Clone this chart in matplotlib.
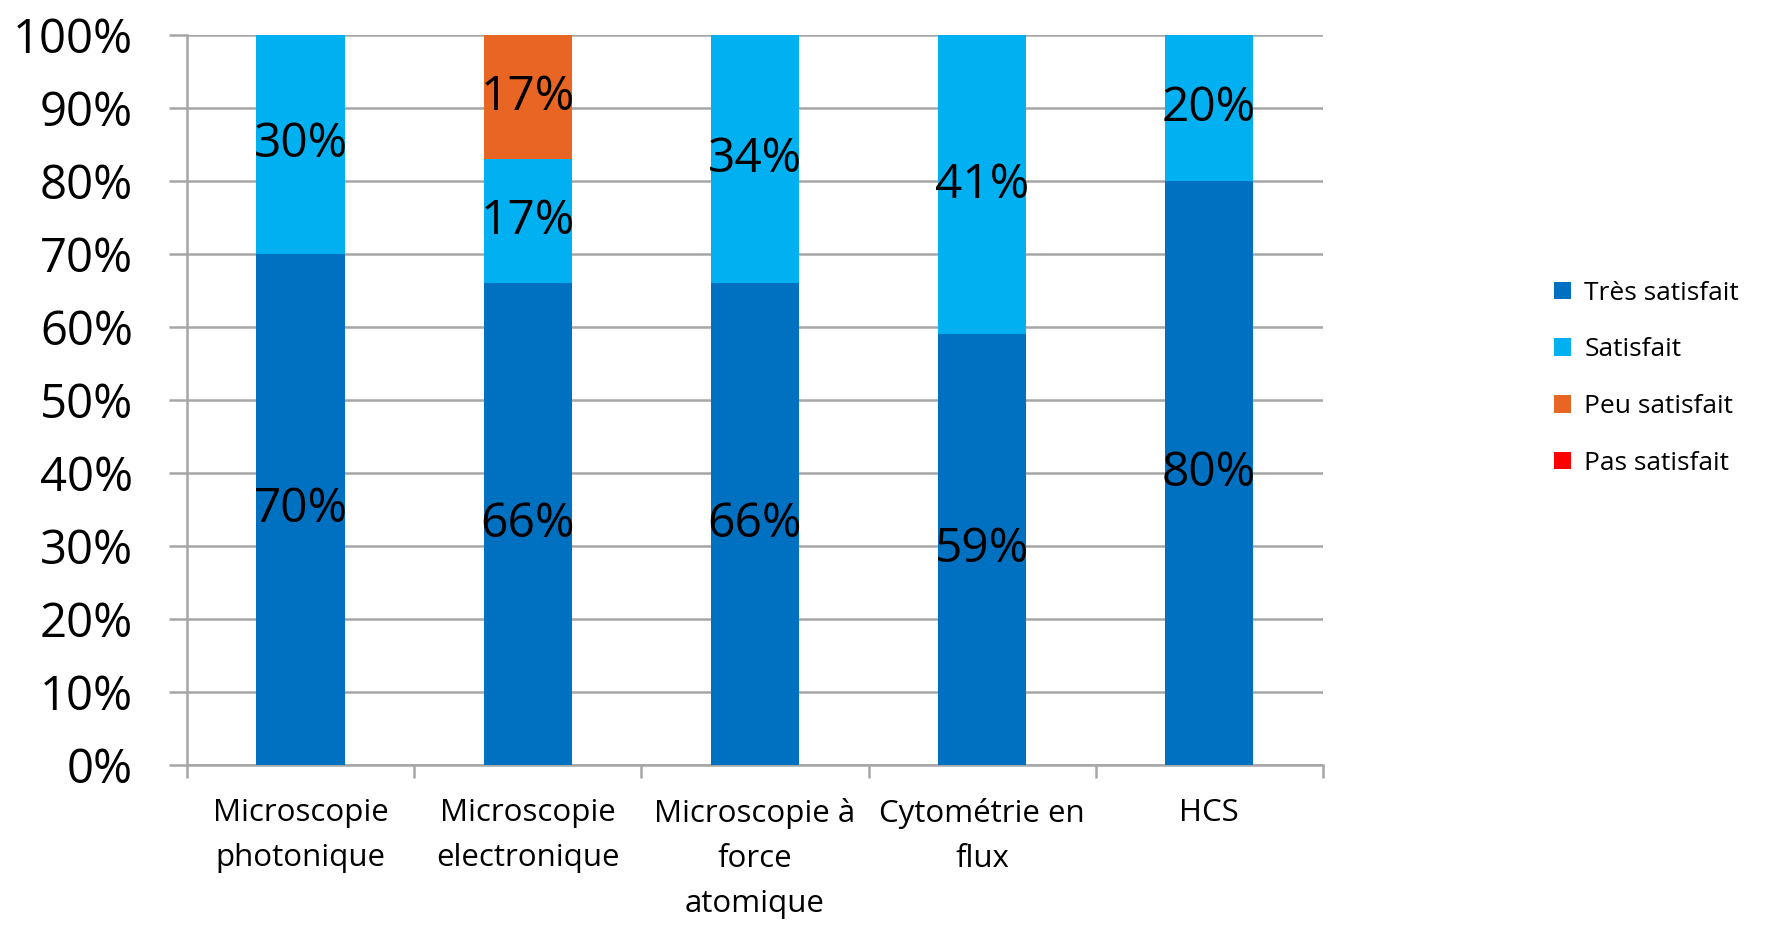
import matplotlib
matplotlib.use("Agg")
import matplotlib.pyplot as plt
import numpy as np
from matplotlib.patches import Patch

categories = ["Microscopie\nphotonique", "Microscopie\nelectronique",
              "Microscopie à\nforce\natomique", "Cytométrie en\nflux", "HCS"]
series_names = ["Très satisfait", "Satisfait", "Peu satisfait", "Pas satisfait"]
tres = [70, 66, 66, 59, 80]
satisfait = [30, 17, 34, 41, 20]
peu = [0, 17, 0, 0, 0]
pas = [0, 0, 0, 0, 0]
yticks = [0, 10, 20, 30, 40, 50, 60, 70, 80, 90, 100]

colors = ["#0070C0", "#00B0F0", "#E96524", "#FF0000"]
grid_c = "#A6A6A6"

plt.rcParams['font.family'] = ['Open Sans', 'DejaVu Sans']

fig = plt.figure(figsize=(17.66, 9.27), dpi=100)
ax = fig.add_axes([0.106, 0.175, 0.643, 0.787])

x = np.arange(len(categories))
w = 0.39
bottom = np.zeros(len(categories))
for vals, c in zip([tres, satisfait, peu, pas], colors):
    vals = np.array(vals, dtype=float)
    ax.bar(x, vals, w, bottom=bottom, color=c, zorder=3)
    for xi, v, b in zip(x, vals, bottom):
        if v > 0:
            ax.text(xi, b + v / 2, f"{int(v)}%", ha="center", va="center",
                    fontsize=34.5, color="black", zorder=4)
    bottom += vals

ax.set_xlim(-0.5, 4.5)
ax.set_ylim(0, 100)
ax.set_yticks(yticks)
ax.set_yticklabels([f"{v}%" for v in yticks], fontsize=34)
ax.yaxis.grid(True, color=grid_c, linewidth=1.8, zorder=0)
ax.tick_params(axis="y", length=13, width=1.8, color=grid_c, pad=26)

ax.set_xticks(x)
ax.set_xticklabels(categories, fontsize=22.5, linespacing=1.64)
ax.set_xticks(np.arange(-0.5, 5, 1), minor=True)
ax.tick_params(axis="x", which="major", length=0, pad=24)
ax.tick_params(axis="x", which="minor", length=9, width=1.8, color=grid_c)

for s in ["top", "right"]:
    ax.spines[s].set_visible(False)
for s in ["left", "bottom"]:
    ax.spines[s].set_color(grid_c)
    ax.spines[s].set_linewidth(1.8)

handles = [Patch(facecolor=c, edgecolor="none") for c in colors]
leg = fig.legend(handles, series_names, loc="center left", bbox_to_anchor=(0.88, 0.592),
                 frameon=False, fontsize=19, handlelength=0.65, handleheight=0.65,
                 labelspacing=1.2, handletextpad=0.5, borderpad=0, borderaxespad=0)

fig.savefig("out.png", dpi=100)
